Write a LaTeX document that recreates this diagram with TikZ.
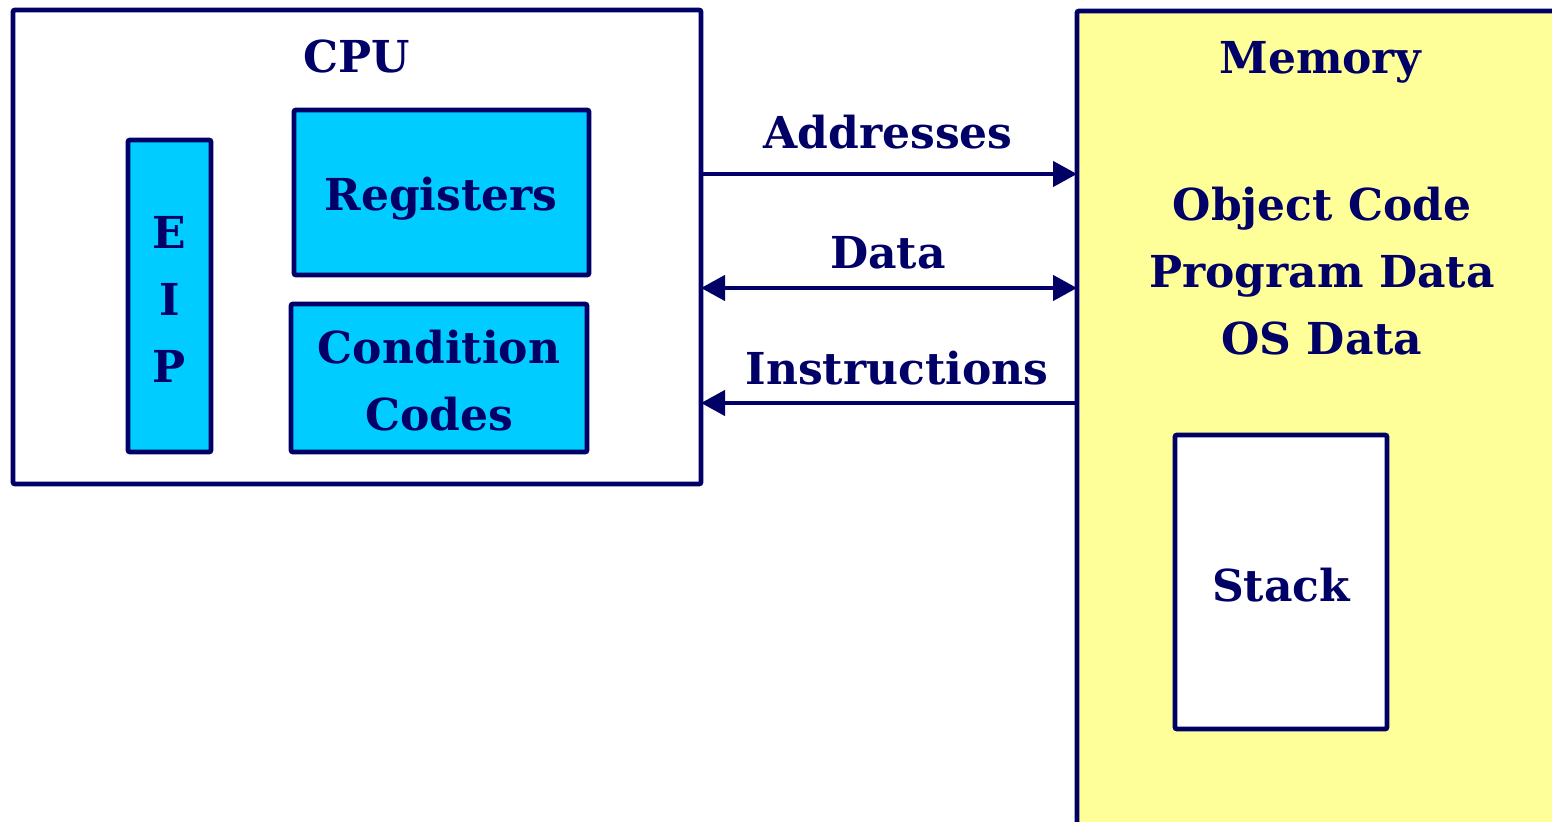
\documentclass[tikz,border=0pt]{standalone}
\usepackage{fontspec}
\setmainfont{DejaVu Serif}
\usetikzlibrary{arrows.meta}
\definecolor{navy}{RGB}{0,0,102}
\definecolor{regcyan}{RGB}{0,204,255}
\definecolor{memyellow}{RGB}{255,255,153}
\tikzset{
  unit/.style={draw=navy, line width=2.4pt, rounded corners=1pt, inner sep=0pt, outer sep=0pt},
  lbl/.style={text=navy, font=\fontsize{22}{33.5}\selectfont\bfseries, inner sep=0pt, align=center},
  bus/.style={draw=navy, line width=2.2pt, -{Triangle[length=12pt,width=12.5pt]}}
}
\begin{document}
\begin{tikzpicture}[x=0.5pt,y=0.5pt,yscale=-1,xscale=1]
    \clip (0,0) rectangle (1552,822);
    \fill [white] (0,0) rectangle (1552,822);

    %Shape: Rectangle [CPU]
    \node (cpu) [unit, fill=white, minimum width=344pt, minimum height=237pt] at (357,247) {};
    %Shape: Rectangle [Memory]
    \node (mem) [unit, fill=memyellow, minimum width=270pt, minimum height=440pt, anchor=north west] at (1077,11) {};

    %Shape: Rectangle [EIP]
    \node (eip) [unit, fill=regcyan, minimum width=41.5pt, minimum height=156pt] at (169.5,296) {};
    %Shape: Rectangle [Registers]
    \node (regs) [unit, fill=regcyan, minimum width=147.5pt, minimum height=82.5pt] at (441.5,192.5) {};
    %Shape: Rectangle [Condition Codes]
    \node (cc) [unit, fill=regcyan, minimum width=148pt, minimum height=74pt] at (439,378) {};
    %Shape: Rectangle [Stack]
    \node (stack) [unit, fill=white, minimum width=106pt, minimum height=147pt] at (1281,582) {};

    % Text Node
    \node (cputxt) [lbl, anchor=base] at (357,73) {CPU};
    % Text Node
    \node (eiptxt) [lbl] at ([yshift=1.5pt]eip.center) {E\\I\\P};
    % Text Node
    \node (regstxt) [lbl, anchor=base] at (441,211) {Registers};
    % Text Node
    \node (cctxt) [lbl] at ([yshift=1.5pt]cc.center) {Condition\\Codes};
    % Text Node
    \node (memtxt) [lbl, anchor=base] at (1320,74) {Memory};
    % Text Node
    \node (objtxt) [lbl] at (1322,271) {Object Code\\Program Data\\OS Data};
    % Text Node
    \node (stacktxt) [lbl, anchor=base] at (1281,602) {Stack};

    %Straight Lines [buses]
    \coordinate (addr) at (0,174);
    \coordinate (data) at (0,288);
    \coordinate (instr) at (0,403);
    \draw [bus] (cpu.east |- addr) -- (mem.west |- addr);
    \draw [bus, {Triangle[length=12pt,width=12.5pt]}-{Triangle[length=12pt,width=12.5pt]}] (cpu.east |- data) -- (mem.west |- data);
    \draw [bus] (mem.west |- instr) -- (cpu.east |- instr);

    % Text Node
    \node (addrtxt) [lbl, anchor=base] at (888,149) {Addresses};
    % Text Node
    \node (datatxt) [lbl, anchor=base] at (888,269) {Data};
    % Text Node
    \node (instrtxt) [lbl, anchor=base] at (897,385) {Instructions};

\end{tikzpicture}
\end{document}
